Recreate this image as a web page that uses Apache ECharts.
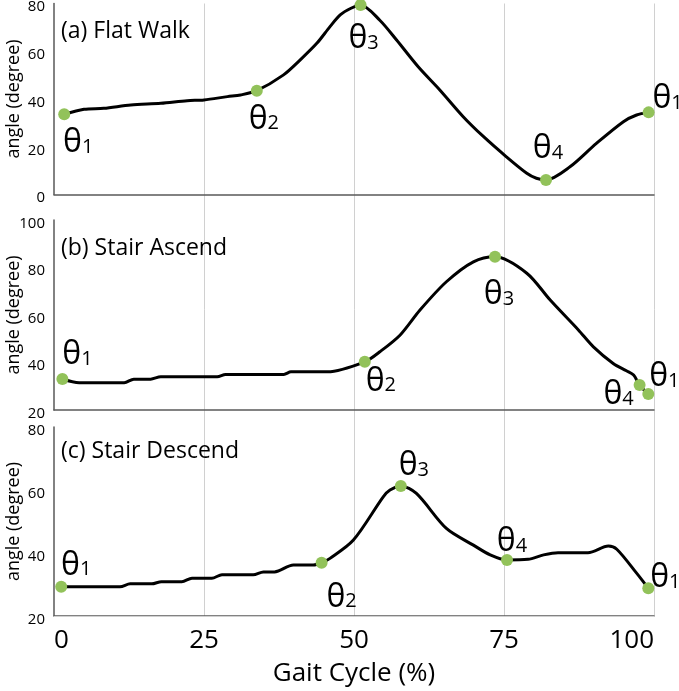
<!DOCTYPE html>
<html>
<head>
<meta charset="utf-8">
<script src="https://cdn.jsdelivr.net/npm/echarts@6/dist/echarts.min.js"></script>
<style>
  html, body { margin: 0; padding: 0; background: #fff; }
  #main { width: 679px; height: 691px; }
</style>
</head>
<body>
<div id="main"></div>
<script>
// gait cycle axis
const gaitTicks = [0, 25, 50, 75, 100];

// (a) flat walk
const flatX = [1.7, 5, 8.3, 12.8, 17.8, 22.2, 25, 28.9, 31.1, 33.8, 38.2, 41, 43.8, 46, 47.7, 49.5, 51.1, 54.3, 57.1, 60.7, 64.3, 68.2, 71.6, 75.4, 78.8, 80.4, 82, 86, 90.4, 94.9, 97.1, 99.1];
const flatY = [33.6, 35.7, 36.1, 37.5, 38.2, 39.3, 39.6, 41, 41.7, 43.5, 50, 56.3, 63.3, 70.3, 75.2, 78, 79.4, 73, 64.7, 53.5, 43.8, 32.6, 24.2, 15.8, 8.9, 6.8, 6.1, 11.6, 21.4, 30.5, 33.3, 34.4];
const flatMarkX = [1.7, 33.8, 51.1, 82, 99.1];
const flatMarkY = [33.6, 43.5, 79.4, 6.1, 34.4];

// (b) stair ascend
const ascX = [1.4, 4.2, 11.7, 13.3, 16.1, 17.8, 27.2, 28.6, 38.3, 39.5, 45.6, 51.8, 54.3, 57.7, 61, 65.4, 69.9, 73.5, 78.8, 82.7, 87.4, 89.9, 93.2, 95.4, 96.6, 97.6, 99.05];
const ascY = [33.05, 31.5, 31.5, 33, 33, 34, 34, 35, 35, 36.1, 36.1, 40.3, 44.5, 51.6, 62.1, 74, 82.4, 84.5, 77.6, 66.3, 53.7, 46.6, 39.6, 36.5, 34.7, 30.5, 26.7];
const ascMarkX = [1.4, 51.8, 73.5, 97.6, 99.05];
const ascMarkY = [33.05, 40.3, 84.5, 30.5, 26.7];

// (c) stair descend
const descX = [1.2, 11, 12.7, 16.3, 17.9, 21.3, 23, 26.3, 28, 33.2, 34.9, 36.75, 39.9, 43.2, 44.6, 46, 49.9, 54.9, 56, 57.8, 60.4, 65.4, 69.9, 72.7, 75.5, 79, 81.6, 84, 89, 92.4, 93.8, 97.1, 99.05];
const descY = [29.3, 29.3, 30.2, 30.2, 30.9, 30.9, 32, 32, 33.1, 33.1, 34, 34, 36.2, 36.2, 36.9, 38.3, 44.1, 57.9, 60, 61.3, 58.9, 47.8, 42.5, 39.4, 37.8, 38, 39.4, 40.1, 40.1, 42.2, 41.2, 33.6, 28.8];
const descMarkX = [1.2, 44.6, 57.8, 75.5, 99.05];
const descMarkY = [29.3, 36.9, 61.3, 37.8, 28.8];

const markNames = ['1', '2', '3', '4', '1'];

const FONT = 'Open Sans';
const GREEN = '#92c25a';

const panels = [
  { title: '(a) Flat Walk', top: 3.5, height: 191, min: 0, max: 80, xs: flatX, ys: flatY, mx: flatMarkX, my: flatMarkY,
    offs: [[14, 28], [7, 28], [3, 33], [2, -32], [19, -14]], titleTop: 20 },
  { title: '(b) Stair Ascend', top: 220, height: 190, min: 20, max: 100, xs: ascX, ys: ascY, mx: ascMarkX, my: ascMarkY,
    offs: [[15, -25], [16, 19], [4, 37], [-21, 9], [16, -18]], titleTop: 237 },
  { title: '(c) Stair Descend', top: 427, height: 189, min: 20, max: 80, xs: descX, ys: descY, mx: descMarkX, my: descMarkY,
    offs: [[15, -22], [20, 34], [13, -21], [5, -19], [17, -11]], titleTop: 440 }
];

const chart = echarts.init(document.getElementById('main'));

const grid = [];
const xAxis = [];
const yAxis = [];
const series = [];
const title = [];

panels.forEach((p, i) => {
  grid.push({ left: 54, right: 25, top: p.top, height: p.height, containLabel: false, outerBoundsMode: 'none' });
  title.push({
    text: p.title, left: 61, top: p.titleTop, padding: 0,
    textStyle: { fontFamily: FONT, fontSize: 23, fontWeight: 'normal', color: '#000' }
  });
  const last = i === panels.length - 1;
  xAxis.push({
    type: 'value', gridIndex: i, min: 0, max: 100, interval: 25,
    axisLine: { show: true, lineStyle: { color: '#595959', width: 1.5 } },
    axisTick: { show: false },
    splitLine: { show: false },
    axisLabel: last ? {
      show: true, fontFamily: FONT, fontSize: 26, color: '#000', margin: 12,
      alignMinLabel: 'left', alignMaxLabel: 'right',
      formatter: v => (gaitTicks.includes(v) ? String(v) : '')
    } : { show: false },
    name: last ? 'Gait Cycle (%)' : '',
    nameLocation: 'middle', nameGap: 45,
    nameTextStyle: { fontFamily: FONT, fontSize: 26, color: '#000' }
  });
  yAxis.push({
    type: 'value', gridIndex: i, min: p.min, max: p.max, interval: 20,
    axisLine: { show: true, lineStyle: { color: '#595959', width: 1.5 } },
    axisTick: { show: false },
    splitLine: { show: false },
    axisLabel: { fontFamily: FONT, fontSize: 15, color: '#000', margin: 9, verticalAlign: 'top', lineHeight: 7 },
    name: 'angle (degree)', nameLocation: 'middle', nameGap: 31, nameMoveOverlap: false,
    nameTextStyle: { fontFamily: FONT, fontSize: 18, color: '#000' }
  });
  series.push({
    type: 'line', xAxisIndex: i, yAxisIndex: i,
    data: p.xs.map((x, k) => [x, p.ys[k]]),
    showSymbol: false, smooth: 0.3,
    lineStyle: { color: '#000', width: 3 },
    z: 3
  });
  series.push({
    type: 'scatter', xAxisIndex: i, yAxisIndex: i,
    symbolSize: 12,
    itemStyle: { color: GREEN, opacity: 1 },
    z: 4,
    data: p.mx.map((x, k) => ({
      value: [x, p.my[k]],
      label: {
        show: true, position: 'inside', offset: p.offs[k],
        formatter: '{t|θ}{s|' + markNames[k] + '}',
        rich: {
          t: { fontFamily: FONT, fontSize: 32, color: '#000', verticalAlign: 'bottom', lineHeight: 34 },
          s: { fontFamily: FONT, fontSize: 20, color: '#000', verticalAlign: 'bottom', lineHeight: 34, padding: [0, 0, 2, 0] }
        }
      }
    }))
  });
});

// background grid holding the vertical gridlines and frame across all panels
grid.push({ left: 54, right: 25, top: 3.5, bottom: 691 - 616, containLabel: false, outerBoundsMode: 'none' });
xAxis.push({
  type: 'value', gridIndex: 3, min: 0, max: 100, interval: 25, position: 'top',
  axisLine: { show: true, lineStyle: { color: '#d0d0d0', width: 1 } },
  axisTick: { show: false },
  axisLabel: { show: false },
  splitLine: { show: true, showMinLine: false, lineStyle: { color: '#d0d0d0', width: 1 } }
});
yAxis.push({ type: 'value', gridIndex: 3, min: 0, max: 1, show: false });

chart.setOption({
  animation: false,
  backgroundColor: '#fff',
  title,
  grid,
  xAxis,
  yAxis,
  series
});
</script>
</body>
</html>
